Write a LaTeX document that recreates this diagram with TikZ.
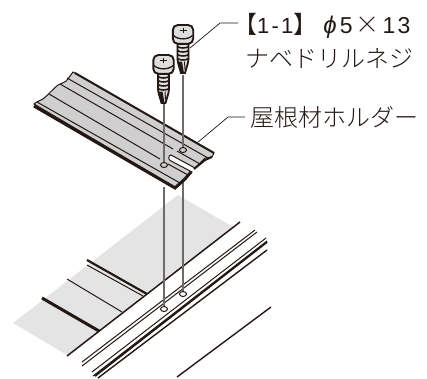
\documentclass[tikz,border=0pt]{standalone}
\usepackage{fontspec}
\usetikzlibrary{shapes.geometric}
\setmainfont{Noto Sans CJK JP}[UprightFont=* Light]
\newfontfamily\latinf[LetterSpace=10]{Liberation Sans}
\definecolor{ink}{HTML}{231815}
\definecolor{railgray}{HTML}{CFCFCF}
\definecolor{roofgray}{HTML}{E4E4E4}
\definecolor{pingray}{HTML}{6E6A69}
\tikzset{
  heavyline/.style={draw=ink,line width=1.9pt},
  thinline/.style={draw=ink,line width=1pt},
  leaderline/.style={draw=ink,line width=0.7pt},
  pinline/.style={draw=pingray,line width=1.2pt},
  labeltext/.style={inner sep=0pt,anchor=base west,text=ink},
  holemark/.style={draw=ink,line width=1pt,fill=railgray,ellipse,minimum width=7pt,minimum height=5pt,inner sep=0pt},
  pics/screwpic/.style={code={
    \path[draw=ink,line width=1.8pt,fill=railgray!60] (-5.5,8) -- (-5.5,25) -- (-4.8,29) -- (-2,38.5) -- (2,38.5) -- (4.8,29) -- (5.5,25) -- (5.5,8) -- cycle;
    \foreach \yy in {11,15,19,23}{\draw[ink,line width=1.6pt] (-6,\yy+1) .. controls (-2,\yy+3) and (2,\yy+3) .. (6,\yy+1);}
    \fill[ink] (-4.8,27) -- (-2,38.5) -- (1,38.5) -- (-1,27) -- cycle;
    \draw[ink,line width=1pt] (1.5,27) -- (2,35);
    \path[draw=ink,line width=1.9pt,fill=railgray!70,rounded corners=5pt] (-10.2,-9.5) rectangle (10.2,9.3);
    \draw[ink,line width=1.3pt] (-9.5,1) .. controls (-5,5.5) and (5,5.5) .. (9.5,1);
    \draw[ink,line width=1pt] (-3.5,-4.5) -- (3.5,-4.5) (0,-7) -- (0,-2);
  }}
}
\begin{document}
\begin{tikzpicture}[x=1pt,y=-1pt]
\useasboundingbox (0,0) rectangle (427,378);
% roof sheet
\fill[roofgray] (178,195) -- (233,227) -- (67,355) -- (13,323) -- cycle;
\path[heavyline,line width=1.5pt] (240,222) -- (67,356);
\path[draw=ink,line width=3pt] (42,298) -- (99,331);
\path[thinline] (67,279) -- (122,312);
\path[heavyline,line width=2.2pt] (87,260) -- (147,294);
\path[thinline] (87,265) -- (143,296);
% rail lines
\path[thinline] (82,362) -- (255,230);
\path[thinline] (82,366) -- (257,232);
\path[thinline] (92,372) -- (266,238);
\path[thinline] (93,376) -- (267,241);
\path[draw=ink,line width=1.9pt] (95,376) -- (267,242);
\path[heavyline,line width=1.4pt] (98,378) -- (267,250);
\path[heavyline,line width=1.4pt] (177,377) -- (271,307);
% pins lower
\coordinate (pinAtop) at (164,187);
\coordinate (pinBtop) at (183,182);
\node[holemark,fill=white] (holeA) at (164,309) {};
\node[holemark,fill=white] (holeB) at (183,294) {};
\path[pinline] (pinAtop) -- (holeA.north);
\path[pinline] (pinBtop) -- (holeB.north);
% holder
\path[draw=ink,line width=1pt,fill=railgray]
  (73,72) -- (214,153) -- (212,157) -- (205,158) -- (195,168) -- (171,155)
  .. controls (168,155) and (168,160) .. (171,161) -- (192,172)
  -- (185,178) -- (175,187) -- (34,104)
  .. controls (37,101) and (40,101) .. (43,99)
  .. controls (48,95) and (52,90) .. (58,85)
  .. controls (62,83) and (66,82) .. (67,80) -- cycle;
\path[draw=ink,line width=2pt] (75,73) -- (214,153);
\path[draw=ink,line width=3pt] (34,106) -- (175,188) -- (185,179) -- (191,172);
\path[draw=ink,line width=2pt] (194,169) -- (205,160) -- (212,157);
\path[thinline] (67,78) -- (208,158);
\path[thinline] (60,84) -- (173,149) (177,151) -- (200,164);
\path[thinline] (49,94) -- (160,159) (168,164) -- (188,175);
\path[thinline] (37,102) -- (180,183);
\node[holemark] (rholeA) at (164,165) {};
\node[holemark] (rholeB) at (183,150) {};
% screws
\coordinate (tipA) at (164,103);
\coordinate (tipB) at (183,75);
\path[pinline] (tipA) -- (rholeA.north);
\path[pinline] (tipB) -- (rholeB.north);
\pic at (163.5,64.5) {screwpic};
\pic at (183,34.5) {screwpic};
% labels
\node[labeltext,font=\fontsize{24}{24}\selectfont] (lab1) at (233,33) {【{\latinf\fontsize{22}{22}\selectfont 1-1}】\hspace{6pt}{\latinf\fontsize{24}{24}\selectfont\itshape ϕ}\hspace{3pt}{\latinf\fontsize{23}{23}\selectfont 5}\hspace{3pt}×\hspace{3pt}{\latinf\fontsize{23}{23}\selectfont 13}};
\node[labeltext,font=\fontsize{24}{24}\selectfont] (lab2) at (245,67) {ナベドリルネジ};
\node[labeltext,font=\fontsize{24}{24}\selectfont] (lab3) at (250,126) {屋根材ホルダー};
\coordinate (lead1a) at (220,23);
\coordinate (lead1b) at (238,23);
\coordinate (lead2a) at (228,117);
\coordinate (lead2b) at (245,117);
\coordinate (lead1s) at (190,48);
\coordinate (lead2s) at (197,143);
\path[leaderline] (lead1s) -- (lead1a) -- (lead1b);
\path[leaderline] (lead2s) -- (lead2a) -- (lead2b);
\end{tikzpicture}
\end{document}
